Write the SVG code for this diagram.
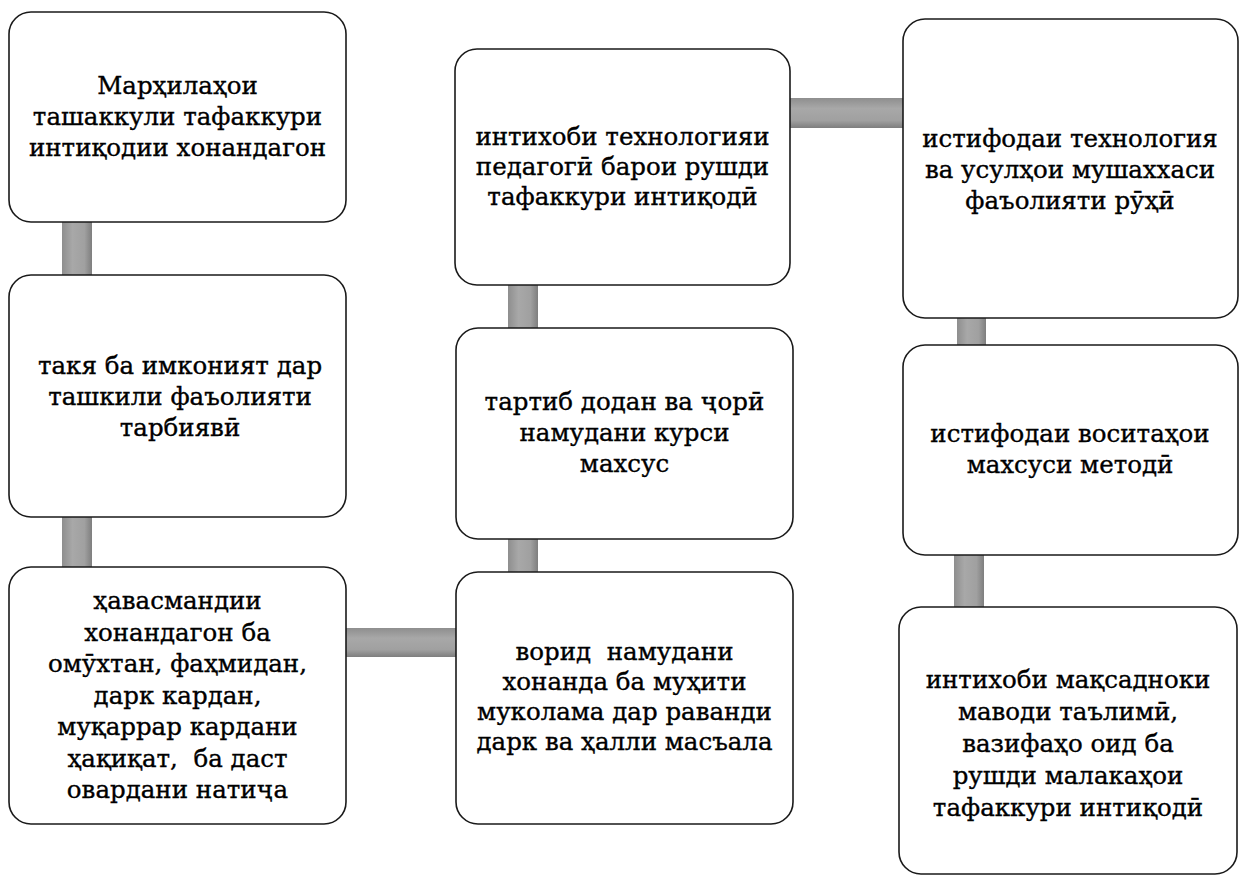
<svg xmlns="http://www.w3.org/2000/svg" width="1240" height="875" viewBox="0 0 1240 875">
<defs>
<linearGradient id="gv" x1="0" y1="0" x2="1" y2="0">
<stop offset="0" stop-color="#8e8e8e"/>
<stop offset="0.35" stop-color="#a8a8a8"/>
<stop offset="0.75" stop-color="#a0a0a0"/>
<stop offset="1" stop-color="#7e7e7e"/>
</linearGradient>
<linearGradient id="gh" x1="0" y1="0" x2="0" y2="1">
<stop offset="0" stop-color="#8e8e8e"/>
<stop offset="0.35" stop-color="#a8a8a8"/>
<stop offset="0.75" stop-color="#a0a0a0"/>
<stop offset="1" stop-color="#7e7e7e"/>
</linearGradient>
</defs>
<style>
.box{fill:#fff;stroke:#1a1a1a;stroke-width:1.6}
.t{font-family:"DejaVu Serif","Liberation Serif",serif;font-size:24.5px;fill:#000;stroke:#000;stroke-width:0.35;text-anchor:middle;white-space:pre}
.v{fill:url(#gv)}
.h{fill:url(#gh)}
</style>
<rect width="1240" height="875" fill="#fff"/>
<g id="connectors">
<rect class="v" x="62" y="220" width="30" height="57"/>
<rect class="v" x="62" y="515" width="30" height="54"/>
<rect class="h" x="344" y="628" width="114" height="29"/>
<rect class="v" x="508" y="283" width="30" height="47"/>
<rect class="v" x="508" y="537" width="30" height="37"/>
<rect class="h" x="788" y="98" width="117" height="30"/>
<rect class="v" x="957" y="316" width="29" height="31"/>
<rect class="v" x="954" y="553" width="30" height="56"/>
</g>
<g id="node1">
<rect class="box" x="9" y="12" width="337" height="210" rx="22"/>
<text class="t"><tspan x="177.5" y="94">Марҳилаҳои</tspan><tspan x="177.5" y="125">ташаккули тафаккури</tspan><tspan x="177.5" y="156">интиқодии хонандагон</tspan></text>
</g>
<g id="node2">
<rect class="box" x="9" y="275" width="337" height="242" rx="22"/>
<text class="t"><tspan x="180" y="374">такя ба имконият дар</tspan><tspan x="180" y="405">ташкили фаъолияти</tspan><tspan x="180" y="436">тарбиявӣ</tspan></text>
</g>
<g id="node3">
<rect class="box" x="9" y="567" width="337" height="257" rx="22"/>
<text class="t"><tspan x="177.5" y="609">ҳавасмандии</tspan><tspan x="177.5" y="640.5">хонандагон ба</tspan><tspan x="177.5" y="672">омӯхтан, фаҳмидан,</tspan><tspan x="177.5" y="703.5">дарк кардан,</tspan><tspan x="177.5" y="735">муқаррар кардани</tspan><tspan x="177.5" y="766.5">ҳақиқат,  ба даст</tspan><tspan x="177.5" y="798">овардани натиҷа</tspan></text>
</g>
<g id="node4">
<rect class="box" x="455" y="49" width="335" height="236" rx="22"/>
<text class="t"><tspan x="622.5" y="145">интихоби технологияи</tspan><tspan x="622.5" y="175">педагогӣ барои рушди</tspan><tspan x="622.5" y="205">тафаккури интиқодӣ</tspan></text>
</g>
<g id="node5">
<rect class="box" x="456" y="328" width="337" height="211" rx="22"/>
<text class="t"><tspan x="624.5" y="410">тартиб додан ва ҷорӣ</tspan><tspan x="624.5" y="441">намудани курси</tspan><tspan x="624.5" y="472">махсус</tspan></text>
</g>
<g id="node6">
<rect class="box" x="456" y="572" width="337" height="252" rx="22"/>
<text class="t"><tspan x="624.5" y="660">ворид  намудани</tspan><tspan x="624.5" y="690">хонанда ба муҳити</tspan><tspan x="624.5" y="720">муколама дар раванди</tspan><tspan x="624.5" y="750">дарк ва ҳалли масъала</tspan></text>
</g>
<g id="node7">
<rect class="box" x="903" y="19" width="335" height="299" rx="22"/>
<text class="t"><tspan x="1070" y="147">истифодаи технология</tspan><tspan x="1070" y="178">ва усулҳои мушаххаси</tspan><tspan x="1070" y="209">фаъолияти рӯҳӣ</tspan></text>
</g>
<g id="node8">
<rect class="box" x="903" y="345" width="335" height="210" rx="22"/>
<text class="t"><tspan x="1070" y="442">истифодаи воситаҳои</tspan><tspan x="1070" y="473">махсуси методӣ</tspan></text>
</g>
<g id="node9">
<rect class="box" x="899" y="607" width="338" height="267" rx="22"/>
<text class="t"><tspan x="1068" y="688">интихоби мақсадноки</tspan><tspan x="1068" y="720">маводи таълимӣ,</tspan><tspan x="1068" y="752">вазифаҳо оид ба</tspan><tspan x="1068" y="784">рушди малакаҳои</tspan><tspan x="1068" y="816">тафаккури интиқодӣ</tspan></text>
</g>
</svg>
